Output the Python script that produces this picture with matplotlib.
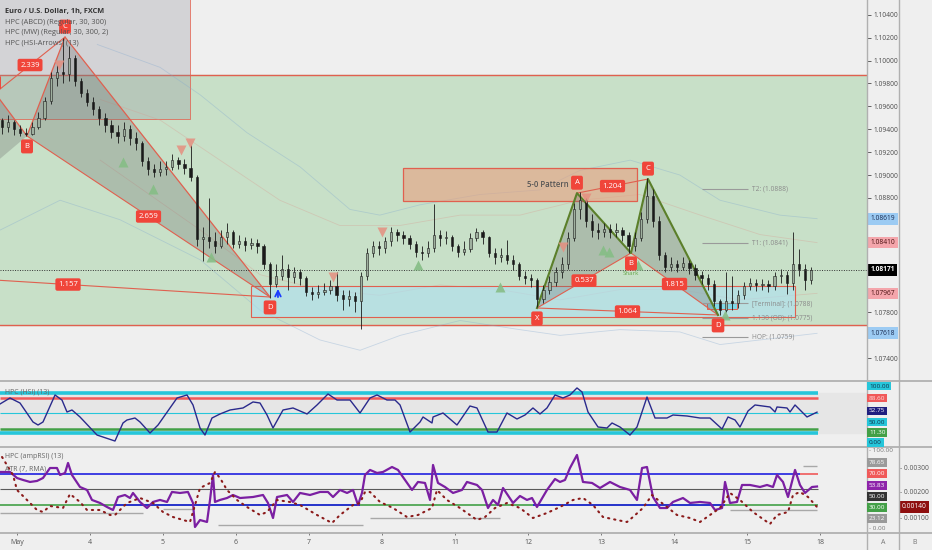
import matplotlib
matplotlib.use('Agg')
import matplotlib.pyplot as plt
import numpy as np
from matplotlib.patches import Rectangle, Polygon
from matplotlib.lines import Line2D
import matplotlib.transforms as mtransforms

plt.rcParams['font.family'] = ['Open Sans', 'DejaVu Sans']

# ---------------- DATA ----------------
day_labels = ["May", "4", "5", "6", "7", "8", "11", "12", "13", "14", "15", "18"]
day_pos = list(range(12))

first_open = 1.0948
closes = [1.0942, 1.0946, 1.0940, 1.0937, 1.0936, 1.0942, 1.0950, 1.0965, 1.0985, 1.0990,
          1.0988, 1.1002, 1.0982, 1.0972, 1.0964, 1.0958, 1.0950, 1.0944, 1.0938, 1.0934,
          1.0940, 1.0932, 1.0928, 1.0912, 1.0905, 1.0903, 1.0905, 1.0907, 1.0913, 1.0910,
          1.0906, 1.0898, 1.0844, 1.0846, 1.0842, 1.0838, 1.0846, 1.0850, 1.0840, 1.0842,
          1.0839, 1.0841, 1.0838, 1.0822, 1.0805, 1.0812, 1.0818, 1.0811, 1.0815, 1.0810,
          1.0798, 1.0796, 1.0798, 1.0800, 1.0803, 1.0795, 1.0792, 1.0794, 1.0790, 1.0812,
          1.0832, 1.0838, 1.0836, 1.0842, 1.0850, 1.0848, 1.0845, 1.0840, 1.0833, 1.0832,
          1.0836, 1.0848, 1.0845, 1.0846, 1.0838, 1.0833, 1.0835, 1.0845, 1.0850, 1.0846,
          1.0832, 1.0828, 1.0830, 1.0826, 1.0822, 1.0812, 1.0810, 1.0808, 1.0792, 1.0800,
          1.0807, 1.0815, 1.0822, 1.0845, 1.0870, 1.0878, 1.0860, 1.0852, 1.0850, 1.0853,
          1.0850, 1.0852, 1.0848, 1.0838, 1.0845, 1.0862, 1.0882, 1.0860, 1.0830, 1.0820,
          1.0822, 1.0820, 1.0823, 1.0819, 1.0813, 1.0810, 1.0805, 1.0790, 1.0782, 1.0790,
          1.0788, 1.0795, 1.0803, 1.0806, 1.0804, 1.0805, 1.0803, 1.0812, 1.0813, 1.0806,
          1.0822, 1.0818, 1.0808, 1.08171]
highs = [1.0950, 1.0952, 1.0948, 1.0944, 1.0941, 1.0946, 1.0955, 1.0968, 1.0990, 1.0996,
         1.1020, 1.1013, 1.1005, 1.0985, 1.0975, 1.0968, 1.0960, 1.0954, 1.0948, 1.0944,
         1.0946, 1.0944, 1.0938, 1.0930, 1.0916, 1.0910, 1.0912, 1.0912, 1.0918, 1.0916,
         1.0914, 1.0926, 1.0900, 1.0855, 1.0880, 1.0850, 1.0852, 1.0858, 1.0852, 1.0848,
         1.0846, 1.0845, 1.0844, 1.0840, 1.0824, 1.0822, 1.0830, 1.0822, 1.0820, 1.0818,
         1.0812, 1.0802, 1.0804, 1.0806, 1.0808, 1.0815, 1.0800, 1.0800, 1.0798, 1.0815,
         1.0836, 1.0842, 1.0842, 1.0846, 1.0855, 1.0853, 1.0851, 1.0848, 1.0842, 1.0838,
         1.0842, 1.0875, 1.0852, 1.0851, 1.0848, 1.0840, 1.0842, 1.0849, 1.0854, 1.0852,
         1.0847, 1.0836, 1.0836, 1.0843, 1.0830, 1.0824, 1.0816, 1.0814, 1.0810, 1.0804,
         1.0812, 1.0820, 1.0828, 1.0850, 1.0876, 1.0885, 1.0880, 1.0866, 1.0858, 1.0858,
         1.0857, 1.0858, 1.0855, 1.0850, 1.0850, 1.0868, 1.0897, 1.0888, 1.0864, 1.0833,
         1.0828, 1.0826, 1.0828, 1.0826, 1.0822, 1.0816, 1.0814, 1.0808, 1.0792, 1.0815,
         1.0812, 1.0800, 1.0807, 1.0810, 1.0809, 1.0809, 1.0808, 1.0815, 1.0818, 1.0816,
         1.0850, 1.0835, 1.0822, 1.0820]
lows = [1.0936, 1.0938, 1.0935, 1.0934, 1.0934, 1.0935, 1.0940, 1.0948, 1.0962, 1.0978,
        1.0980, 1.0982, 1.0978, 1.0968, 1.0960, 1.0952, 1.0944, 1.0938, 1.0932, 1.0928,
        1.0930, 1.0926, 1.0922, 1.0908, 1.0900, 1.0898, 1.0899, 1.0900, 1.0904, 1.0905,
        1.0901, 1.0895, 1.0838, 1.0825, 1.0836, 1.0832, 1.0836, 1.0840, 1.0836, 1.0836,
        1.0834, 1.0835, 1.0832, 1.0818, 1.0793, 1.0802, 1.0808, 1.0800, 1.0806, 1.0804,
        1.0794, 1.0791, 1.0793, 1.0795, 1.0796, 1.0790, 1.0782, 1.0786, 1.0780, 1.0766,
        1.0808, 1.0828, 1.0830, 1.0832, 1.0838, 1.0842, 1.0840, 1.0835, 1.0828, 1.0826,
        1.0828, 1.0833, 1.0838, 1.0840, 1.0834, 1.0828, 1.0830, 1.0833, 1.0842, 1.0840,
        1.0828, 1.0822, 1.0824, 1.0822, 1.0817, 1.0808, 1.0805, 1.0802, 1.0785, 1.0788,
        1.0796, 1.0803, 1.0810, 1.0818, 1.0842, 1.0862, 1.0855, 1.0846, 1.0844, 1.0846,
        1.0845, 1.0846, 1.0842, 1.0832, 1.0834, 1.0842, 1.0858, 1.0855, 1.0826, 1.0815,
        1.0816, 1.0815, 1.0817, 1.0814, 1.0808, 1.0805, 1.0800, 1.0786, 1.0778, 1.0780,
        1.0782, 1.0784, 1.0792, 1.0800, 1.0799, 1.0800, 1.0798, 1.0800, 1.0806, 1.0796,
        1.0800, 1.0812, 1.0800, 1.0805]

# harmonic patterns: points X, A, B, C, D (day, price)
p1_days = [-2.068, -0.301, 0.137, 0.658, 3.466]
p1_prices = [1.08153, 1.09716, 1.09341, 1.10205, 1.07935]
p1_ratios = {(0, 4): "1.157", (1, 3): "2.339", (2, 4): "2.659"}
p2_days = [7.123, 7.671, 8.411, 8.644, 9.603]
p2_prices = [1.07839, 1.08842, 1.08319, 1.08965, 1.07778]
p2_ratios = {(0, 2): "0.537", (1, 3): "1.204", (2, 4): "1.815", (0, 4): "1.064"}
pattern_letters = ["X", "A", "B", "C", "D"]

zone_green = [1.07691, 1.09874]
zone_gray = [2.370, 1.09489]           # right edge (day), bottom price
zone_prz = [3.205, 10.66, 1.07760, 1.08031]
zone_50 = [5.288, 8.493, 1.08772, 1.09061]
zone_small = [9.452, 9.863, 1.07828, 1.07880]

target_names = ["T2: (1.0888)", "T1: (1.0841)", "[Terminal]: (1.0788)", "1.130 (OB): (1.0775)", "HOP: (1.0759)"]
target_vals = [1.0888, 1.0841, 1.0788, 1.0775, 1.0759]

arrows_down_d = [0.575, 2.247, 2.370, 5.0, 4.329, 7.479, 7.795]
arrows_down_p = [1.09960, 1.09218, 1.09279, 1.08501, 1.08110, 1.08371, 1.08799]
arrows_up_d = [1.452, 1.863, 2.658, 5.493, 6.616, 8.027, 8.11, 8.507, 9.699]
arrows_up_p = [1.09114, 1.08876, 1.08283, 1.08214, 1.08022, 1.08345, 1.08328, 1.08214, 1.07778]

band_blue_up_d = [1.10, 1.96, 2.51, 3.15, 3.88, 4.56, 4.97, 5.52, 6.34, 7.16, 7.71, 8.40, 9.08, 9.63, 10.45, 10.96]
band_blue_up_p = [1.1014, 1.0994, 1.0970, 1.0937, 1.0907, 1.0870, 1.0865, 1.0874, 1.0883, 1.0887, 1.0904, 1.0913, 1.0900, 1.0878, 1.0865, 1.08619]
band_blue_lo_d = [-0.23, 0.59, 1.41, 2.51, 3.33, 4.15, 4.70, 5.25, 6.07, 6.89, 7.44, 8.26, 9.08, 9.63, 10.45, 10.96]
band_blue_lo_p = [1.0852, 1.0878, 1.0861, 1.0826, 1.0782, 1.0756, 1.0747, 1.0760, 1.0773, 1.0765, 1.0760, 1.0765, 1.0763, 1.0752, 1.0758, 1.07618]
band_red_up_d = [1.14, 1.96, 2.78, 3.60, 4.42, 5.25, 6.07, 6.89, 7.71, 8.53, 9.36, 10.18, 10.96]
band_red_up_p = [1.0966, 1.0948, 1.0913, 1.0878, 1.0856, 1.0856, 1.0865, 1.0865, 1.0878, 1.0883, 1.0865, 1.0848, 1.08410]
band_red_lo_d = [1.14, 2.51, 3.33, 4.15, 4.97, 5.79, 6.61, 7.44, 8.26, 9.08, 9.90, 10.96]
band_red_lo_p = [1.0913, 1.0852, 1.0813, 1.0800, 1.0795, 1.0804, 1.0800, 1.0791, 1.0800, 1.0800, 1.0791, 1.07967]

hsi_d = [-0.233, -0.096, 0.041, 0.219, 0.288, 0.356, 0.521, 0.616, 0.685, 0.753, 0.863, 1.096, 1.342,
         1.452, 1.507, 1.616, 1.685, 1.822, 1.932, 2.192, 2.329, 2.411, 2.507, 2.575, 2.671, 2.781,
         2.918, 3.096, 3.233, 3.329, 3.425, 3.507, 3.644, 3.781, 3.973, 4.110, 4.260, 4.384, 4.562,
         4.699, 4.836, 4.932, 5.068, 5.178, 5.247, 5.384, 5.521, 5.562, 5.685, 5.699, 5.836, 6.027,
         6.205, 6.301, 6.452, 6.575, 6.712, 6.849, 6.959, 7.068, 7.164, 7.260, 7.370, 7.479, 7.575,
         7.671, 7.740, 7.822, 7.959, 8.082, 8.151, 8.260, 8.397, 8.493, 8.630, 8.740, 8.904, 8.986,
         9.178, 9.356, 9.493, 9.658, 9.740, 9.836, 9.904, 10.014, 10.110, 10.315, 10.384, 10.411,
         10.548, 10.589, 10.658, 10.822, 10.959]
hsi_v = [73.4, 88.6, 75.9, 27.8, 20.2, 27.8, 96.2, 83.5, 53.1, 58.2, 40.5, -5.2, -20.4,
         25.3, 32.9, 37.9, 27.8, -0.1, 20.2, 88.6, 96.2, 70.9, 12.6, -5.2, 37.9, 48.1,
         58.2, 63.3, 78.5, 75.9, 45.5, 12.6, 58.2, 63.3, 48.1, 70.9, 98.7, 83.5, 83.5,
         50.6, 88.6, 96.2, 83.5, 83.5, 70.9, 2.4, 27.8, 40.5, 25.3, 40.5, 50.6, 20.2,
         68.3, 63.3, 2.4, 2.4, 50.6, 35.4, 45.5, 63.3, 48.1, 63.3, 96.2, 88.6, 96.2,
         114.0, 103.8, 53.1, 15.1, 12.6, 25.3, 15.1, -5.2, 15.1, 91.1, 37.9, 37.9, 45.5,
         43.0, 37.9, 37.9, 10.0, 40.5, 32.9, 15.1, 55.7, 70.9, 65.8, 53.1, 65.8,
         63.3, 53.1, 70.9, 40.5, 52.75]
hsi_levels = [100.0, 88.6, 50.0, 11.3, 0.0]

amp_d = [-0.233, -0.096, 0.0, 0.082, 0.178, 0.274, 0.356, 0.452, 0.548, 0.589, 0.658, 0.699, 0.753,
         0.863, 0.959, 1.027, 1.137, 1.233, 1.315, 1.384, 1.479, 1.548, 1.589, 1.685, 1.781, 1.863,
         1.959, 2.055, 2.123, 2.233, 2.342, 2.411, 2.438, 2.507, 2.603, 2.644, 2.685, 2.712, 2.781,
         2.877, 2.959, 3.055, 3.233, 3.370, 3.438, 3.507, 3.562, 3.699, 3.781, 3.877, 4.014, 4.151,
         4.260, 4.329, 4.425, 4.521, 4.603, 4.671, 4.726, 4.767, 4.836, 4.932, 5.014, 5.137, 5.219,
         5.315, 5.411, 5.493, 5.589, 5.658, 5.699, 5.767, 5.863, 5.973, 6.096, 6.164, 6.301, 6.370,
         6.452, 6.521, 6.589, 6.658, 6.795, 6.890, 6.986, 7.055, 7.123, 7.260, 7.370, 7.438, 7.507,
         7.575, 7.671, 7.753, 7.877, 7.986, 8.123, 8.260, 8.397, 8.493, 8.562, 8.630, 8.712, 8.808,
         8.904, 8.986, 9.123, 9.219, 9.356, 9.493, 9.562, 9.658, 9.699, 9.767, 9.863, 9.932, 10.041,
         10.178, 10.274, 10.356, 10.411, 10.493, 10.562, 10.658, 10.726, 10.795, 10.890, 10.959]
amp_v = [72.6, 72.6, 64.8, 62.3, 59.7, 61.0, 64.8, 77.7, 77.7, 68.7, 71.3, 84.2, 68.7,
         53.2, 49.4, 36.5, 32.6, 27.4, 23.5, 40.3, 42.9, 39.0, 45.5, 33.9, 26.1, 33.9,
         36.5, 33.9, 46.8, 45.5, 46.8, 32.6, 1.6, 10.6, 8.1, 36.5, 68.7, 33.9, 36.5,
         39.0, 42.9, 39.0, 40.3, 42.9, 32.6, 13.2, 40.3, 42.9, 33.9, 45.5, 42.9, 46.8,
         46.8, 40.3, 49.4, 45.5, 49.4, 30.0, 45.5, 68.7, 75.2, 71.3, 72.6, 79.0, 75.2,
         62.3, 49.4, 59.7, 58.4, 36.5, 81.6, 58.4, 53.2, 45.5, 49.4, 59.7, 55.8, 49.4,
         26.1, 36.5, 30.0, 51.9, 32.6, 41.6, 36.5, 39.0, 27.4, 49.4, 63.5, 59.7, 62.3,
         77.7, 94.5, 59.7, 58.4, 51.9, 59.7, 53.2, 49.4, 36.5, 77.7, 79.0, 40.3, 26.1,
         26.1, 33.9, 39.0, 32.6, 33.9, 32.6, 23.5, 26.1, 59.7, 32.6, 33.9, 55.8, 55.8,
         53.2, 55.8, 53.2, 68.7, 59.7, 40.3, 75.2, 55.8, 45.5, 53.2, 53.83]

atr_d = [-0.205, -0.055, 0.0, 0.137, 0.274, 0.356, 0.452, 0.630, 0.726, 0.863, 0.959, 1.137, 1.274,
         1.342, 1.507, 1.685, 1.863, 2.000, 2.137, 2.370, 2.507, 2.644, 2.712, 2.781, 2.877, 3.014,
         3.151, 3.329, 3.425, 3.562, 3.740, 3.877, 4.110, 4.315, 4.425, 4.603, 4.699, 4.767, 4.836,
         4.973, 5.151, 5.342, 5.493, 5.685, 5.753, 5.890, 6.068, 6.301, 6.411, 6.548, 6.712, 6.890,
         7.068, 7.260, 7.438, 7.616, 7.753, 7.890, 8.027, 8.219, 8.356, 8.438, 8.575, 8.699, 8.781,
         8.904, 9.041, 9.219, 9.356, 9.493, 9.630, 9.767, 9.904, 10.082, 10.315, 10.411, 10.562,
         10.630, 10.726, 10.836, 10.959]
atr_v = [0.00340, 0.00268, 0.00208, 0.00168, 0.00128, 0.00120, 0.00144, 0.00136, 0.00192, 0.00160,
         0.00128, 0.00128, 0.00108, 0.00108, 0.00156, 0.00176, 0.00156, 0.00120, 0.00100, 0.00080,
         0.00216, 0.00236, 0.00280, 0.00256, 0.00208, 0.00168, 0.00140, 0.00108, 0.00120, 0.00168,
         0.00160, 0.00148, 0.00108, 0.00076, 0.00108, 0.00148, 0.00156, 0.00200, 0.00200, 0.00160,
         0.00136, 0.00100, 0.00108, 0.00136, 0.00208, 0.00168, 0.00136, 0.00088, 0.00100, 0.00136,
         0.00156, 0.00136, 0.00096, 0.00116, 0.00140, 0.00168, 0.00176, 0.00148, 0.00100, 0.00088,
         0.00080, 0.00100, 0.00136, 0.00188, 0.00168, 0.00140, 0.00108, 0.00096, 0.00080, 0.00108,
         0.00136, 0.00196, 0.00168, 0.00120, 0.00072, 0.00108, 0.00120, 0.00188, 0.00200, 0.00180,
         0.00140]
amp_levels = [70.0, 50.0, 30.0]
amp_gray_segs = [(-0.233, 1.726, 19.7), (2.0, 2.411, 24.8), (2.753, 4.74, 4.2),
                 (4.836, 6.616, 13.2), (9.767, 10.959, 23.5), (10.767, 10.959, 80.3)]
amp_blue_segs = [(1.342, 4.699), (7.068, 9.699)]
amp_label_vals = ["78.65", "70.00", "53.83", "50.00", "30.00", "23.12"]
hsi_label_vals = ["100.00", "88.60", "52.75", "50.00", "11.30", "0.00"]

# ---------------- LAYOUT ----------------
W, H = 932, 550
fig = plt.figure(figsize=(W / 100, H / 100), dpi=100)
fig.patch.set_facecolor('#efefef')
XR = 866.7
XL = (-17 / 73, (XR - 17) / 73)
LINE_END = (818 - 17) / 73


def box(x0, y0, x1, y1):
    return [x0 / W, 1 - y1 / H, (x1 - x0) / W, (y1 - y0) / H]


def fpx(x, y):
    return x / W, 1 - y / H


ax = fig.add_axes(box(0, 0, XR, 380))
ax1 = fig.add_axes(box(0, 382, XR, 446))
ax2 = fig.add_axes(box(0, 448, XR, 532))
for a in (ax, ax1, ax2):
    a.set_facecolor('#efefef')
    a.set_xlim(*XL)
    for s in a.spines.values():
        s.set_visible(False)

RED = '#e0604f'
LBL = '#f0453a'

# ---------------- MAIN PANE ----------------
ax.set_ylim(1.072104, 1.105283)
ax.axhspan(zone_green[0], zone_green[1], color='#c8e0c8', zorder=0)
ax.axhline(zone_green[0], color=RED, lw=1, zorder=1)
ax.axhline(zone_green[1], color=RED, lw=1, zorder=1)
ax.add_patch(Rectangle((XL[0], zone_gray[1]), zone_gray[0] - XL[0], 0.02, fc='#8c8c98', alpha=0.28,
                       ec='none', zorder=1))
ax.plot([XL[0], zone_gray[0], zone_gray[0]], [zone_gray[1], zone_gray[1], 1.2], color=RED, lw=0.7,
        alpha=0.8, zorder=1)

for bd, bp, col in [(band_blue_up_d, band_blue_up_p, '#7ea6cf'), (band_blue_lo_d, band_blue_lo_p, '#7ea6cf'),
                    (band_red_up_d, band_red_up_p, '#d99a90'), (band_red_lo_d, band_red_lo_p, '#d99a90')]:
    ax.plot(bd, bp, color=col, lw=0.6, alpha=0.35, zorder=1.5)

ax.add_patch(Rectangle((zone_prz[0], zone_prz[2]), zone_prz[1] - zone_prz[0], zone_prz[3] - zone_prz[2],
                       fc='#b0e0f0', alpha=0.65, ec='none', zorder=2))
ax.add_patch(Rectangle((zone_prz[0], zone_prz[2]), zone_prz[1] - zone_prz[0], zone_prz[3] - zone_prz[2],
                       fc='none', ec=RED, lw=0.8, zorder=2))
ax.add_patch(Rectangle((zone_50[0], zone_50[2]), zone_50[1] - zone_50[0], zone_50[3] - zone_50[2],
                       fc='#e8a080', alpha=0.6, ec='none', zorder=2))
ax.add_patch(Rectangle((zone_50[0], zone_50[2]), zone_50[1] - zone_50[0], zone_50[3] - zone_50[2],
                       fc='none', ec=RED, lw=0.9, zorder=2))
ax.text(7.274, (zone_50[2] + zone_50[3]) / 2, "5-0 Pattern", fontsize=5.6, color='#555555',
        weight='semibold', ha='center', va='center', zorder=3)
ax.add_patch(Rectangle((zone_small[0], zone_small[2]), zone_small[1] - zone_small[0],
                       zone_small[3] - zone_small[2], fc='#80d8e8', ec=RED, lw=0.7, zorder=2))


def draw_pattern(pd, pp, ratios, edge_col, edge_lw):
    ax.add_patch(Polygon(list(zip(pd[0:3], pp[0:3])), closed=True, fc='#6e6e6e', alpha=0.3, ec='none', zorder=2.5))
    ax.add_patch(Polygon(list(zip(pd[2:5], pp[2:5])), closed=True, fc='#6e6e6e', alpha=0.3, ec='none', zorder=2.5))
    for (i, j), txt in ratios.items():
        ax.plot([pd[i], pd[j]], [pp[i], pp[j]], color=RED, lw=0.8, zorder=3)
    ax.plot(pd, pp, color=edge_col, lw=edge_lw, zorder=3.2)


draw_pattern(p1_days, p1_prices, p1_ratios, RED, 0.9)
draw_pattern(p2_days, p2_prices, p2_ratios, '#5b7f2a', 1.5)

# candles
n = len(closes)
xs = -0.2055 + np.arange(n) / 12.0
opens = np.array([first_open] + closes[:-1])
c = np.array(closes)
up = c >= opens
ax.vlines(xs, lows, highs, color='#1a1a1a', lw=0.6, zorder=4)
body_bot = np.minimum(opens, c)
body_h = np.maximum(np.abs(c - opens), 0.00004)
ax.bar(xs[up], body_h[up], bottom=body_bot[up], width=0.03, color='#9fb09f', edgecolor='#1a1a1a', lw=0.4, zorder=4.5)
ax.bar(xs[~up], body_h[~up], bottom=body_bot[~up], width=0.03, color='#1a1a1a', edgecolor='#1a1a1a', lw=0.4, zorder=4.5)

ax.axhline(closes[-1], color='#333333', lw=0.7, ls=(0, (1, 1.5)), zorder=4.6)

# arrows (HSI)
ax.plot(arrows_down_d, arrows_down_p, 'v', ms=6.5, color='#e58f80', alpha=0.85, mec='none', zorder=5)
ax.plot(arrows_up_d, arrows_up_p, '^', ms=6.5, color='#86bd86', alpha=0.9, mec='none', zorder=5)
ax.annotate('', xy=(3.575, 1.0803), xytext=(3.575, 1.0791),
            arrowprops=dict(arrowstyle='->', color='#1a3cff', lw=1.3), zorder=6)

# pattern labels
lbl_box = dict(boxstyle='round,pad=0.35,rounding_size=0.25', fc=LBL, ec='none')


def pattern_labels(pd, pp, ratios):
    for (i, j), txt in ratios.items():
        ax.text((pd[i] + pd[j]) / 2, (pp[i] + pp[j]) / 2, txt, fontsize=5.6, color='white',
                ha='center', va='center', bbox=lbl_box, zorder=7)
    for k, letter in enumerate(pattern_letters):
        if pd[k] < XL[0] - 0.15:
            continue
        off = 7.5 if letter in ("A", "C") else -7.5
        ax.annotate(letter, (pd[k], pp[k]), xytext=(0, off), textcoords='offset points',
                    fontsize=5.6, color='white', ha='center', va='center', annotation_clip=False,
                    bbox=dict(boxstyle='round,pad=0.45,rounding_size=0.25', fc=LBL, ec='none'), zorder=7)


pattern_labels(p1_days, p1_prices, p1_ratios)
pattern_labels(p2_days, p2_prices, p2_ratios)
ax.text(p2_days[2], p2_prices[2] - 0.0018, "Shark", fontsize=4.5, color='#6aa84f', ha='center', va='center', zorder=6)

# targets
for name, v in zip(target_names, target_vals):
    ax.hlines(v, 9.384, 10.014, color='#9a9a9a', lw=0.8, zorder=3)
    ax.text(10.068, v, name, fontsize=4.8, color='#8a8a8a', ha='left', va='center', zorder=3)

# right price axis
main_hl = [(band_blue_up_p[-1], '#9ccbf3', '#1a2a50'), (band_red_up_p[-1], '#f4a5ab', '#4a1010'),
           (closes[-1], '#000000', '#ffffff'), (band_red_lo_p[-1], '#f4a5ab', '#4a1010'),
           (band_blue_lo_p[-1], '#9ccbf3', '#1a2a50')]
ax.yaxis.tick_right()
yt = np.arange(1.074, 1.1041, 0.002)
ax.set_yticks(yt)
ax.set_yticklabels(["" if any(abs(v - h[0]) < 0.0008 for h in main_hl) else f"{v:.5f}" for v in yt])
ax.tick_params(axis='y', direction='out', length=3, width=0.6, pad=2, labelsize=4.8,
               colors='#4a4a4a', labelcolor='#4a4a4a')
ax.set_xticks([])

ytr = mtransforms.blended_transform_factory(ax.transAxes, ax.transData)
for v, fc, tc in main_hl:
    ax.text(1 + 4 / XR, v, f"{v:.5f}", transform=ytr, fontsize=4.8, color=tc, ha='left', va='center',
            weight='bold' if fc == '#000000' else 'normal',
            bbox=dict(boxstyle='square,pad=0.35', fc=fc, ec='none'), clip_on=False, zorder=10)

# legend
fig.text(*fpx(5, 11), "Euro / U.S. Dollar, 1h, FXCM", fontsize=5.3, color='#333333', weight='bold', va='center')
for k, t in enumerate(["HPC (ABCD) (Regular, 30, 300)", "HPC (MW) (Regular, 30, 300, 2)", "HPC (HSI-Arrows) (13)"]):
    fig.text(*fpx(5, 22 + 10.7 * k), t, fontsize=5.3, color='#555555', va='center')

# ---------------- HSI PANE ----------------
ax1.set_ylim(-33.0, 129.1)
ax1.axhspan(0, 100, color='#e6e6e6', zorder=0)
ax1.hlines(hsi_levels[0], XL[0], LINE_END, color='#26c6da', lw=2.6, zorder=1)
ax1.hlines(hsi_levels[4], XL[0], LINE_END, color='#26c6da', lw=2.6, zorder=1)
ax1.hlines(hsi_levels[1], XL[0], LINE_END, color='#f05a5a', lw=1.8, zorder=1)
ax1.hlines(hsi_levels[3], XL[0], LINE_END, color='#43a047', lw=1.8, zorder=1)
ax1.hlines(hsi_levels[2], XL[0], LINE_END, color='#26c6da', lw=0.8, zorder=1)
ax1.plot(hsi_d, hsi_v, color='#2a2a8c', lw=1.0, zorder=3)
ax1.set_xticks([])
ax1.set_yticks([])
fig.text(*fpx(5, 392), "HPC (HSI) (13)", fontsize=5.0, color='#666666', va='center')

hsi_lbl_style = [(386, '#26c6da', '#10304a'), (398, '#f05a5a', '#ffe0e0'), (411, '#1f1f80', 'white'),
                 (422, '#26c6da', '#10304a'), (432.5, '#43a047', 'white'), (442.5, '#26c6da', '#10304a')]
for txt, (yy, fc, tc) in zip(hsi_label_vals, hsi_lbl_style):
    fig.text(*fpx(869, yy), txt, fontsize=4.6, color=tc, va='center', ha='left',
             bbox=dict(boxstyle='square,pad=0.28', fc=fc, ec='none'), zorder=10)

# ---------------- ampRSI / ATR PANE ----------------
ax2.set_ylim(-4.84, 103.5)
ax2.hlines(amp_levels[0], XL[0], 10.726, color='#2020e0', lw=1.2, zorder=1)
ax2.hlines(amp_levels[0], 10.726, LINE_END, color='#f05a5a', lw=1.2, zorder=1)
ax2.hlines(amp_levels[1], XL[0], LINE_END, color='#5a5a5a', lw=0.8, zorder=1)
ax2.hlines(amp_levels[2], XL[0], LINE_END, color='#43a047', lw=1.2, zorder=1)
for a0, a1 in amp_blue_segs:
    ax2.hlines(amp_levels[2], a0, a1, color='#2020e0', lw=1.2, zorder=1.2)
for a0, a1, v in amp_gray_segs:
    ax2.hlines(v, a0, a1, color='#a8a8a8', lw=1.0, zorder=1.1)
ax2.plot(amp_d, amp_v, color='#7b1fa2', lw=1.6, zorder=3)
ax2.set_yticks([])
ax2.set_xticks(day_pos)
ax2.set_xticklabels(day_labels)
ax2.tick_params(axis='x', direction='out', length=2, width=0.6, pad=3.2, labelsize=5, colors='#666666',
                labelcolor='#555555')

ax2t = ax2.twinx()
ax2t.set_ylim(0.0004, 0.00376)
ax2t.plot(atr_d, atr_v, color='#8b1a1a', lw=1.5, ls=(0, (0.6, 2.4)), dash_capstyle='round', zorder=4)
for s in ax2t.spines.values():
    s.set_visible(False)
ax2t.set_yticks([0.001, 0.002, 0.003])
ax2t.set_yticklabels([f"- {v:.5f}" for v in [0.001, 0.002, 0.003]])
ax2t.tick_params(axis='y', length=0, pad=(900 - XR) / 1.389, labelsize=4.8, labelcolor='#555555')
ytr2 = mtransforms.blended_transform_factory(ax2t.transAxes, ax2t.transData)
ax2t.text(1 + 35 / XR, atr_v[-1], f"{atr_v[-1]:.5f}", transform=ytr2, fontsize=4.8, color='white',
          ha='left', va='center', bbox=dict(boxstyle='square,pad=0.35', fc='#8e0e0e', ec='none'),
          clip_on=False, zorder=10)

fig.text(*fpx(5, 457), "HPC (ampRSI) (13)", fontsize=5.0, color='#666666', va='center')
fig.text(*fpx(5, 469), "ATR (7, RMA)", fontsize=5.0, color='#666666', va='center')

fig.text(*fpx(869, 451), "- 100.00", fontsize=4.6, color='#777777', va='center')
fig.text(*fpx(869, 529), "- 0.00", fontsize=4.6, color='#777777', va='center')
amp_lbl_style = [(462.5, '#9a9a9a', 'white'), (473.5, '#f05a5a', 'white'), (485.5, '#8e24aa', 'white'),
                 (496.5, '#333333', 'white'), (507.5, '#43a047', 'white'), (518.5, '#9a9a9a', 'white')]
for txt, (yy, fc, tc) in zip(amp_label_vals, amp_lbl_style):
    fig.text(*fpx(869, yy), txt, fontsize=4.6, color=tc, va='center', ha='left',
             bbox=dict(boxstyle='square,pad=0.28', fc=fc, ec='none'), zorder=10)

fig.text(*fpx(883, 543), "A", fontsize=5, color='#777777', ha='center', va='center')
fig.text(*fpx(915, 543), "B", fontsize=5, color='#777777', ha='center', va='center')

# separators
for yy in (381, 447, 532.5):
    fig.add_artist(Line2D([0, 1], [1 - yy / H] * 2, color='#b0b0b0', lw=1.3, transform=fig.transFigure))
for xx in (XR, 899.3):
    fig.add_artist(Line2D([xx / W] * 2, [0, 1], color='#b0b0b0', lw=1.0, transform=fig.transFigure))

fig.savefig('out.png', dpi=100, facecolor=fig.get_facecolor())
